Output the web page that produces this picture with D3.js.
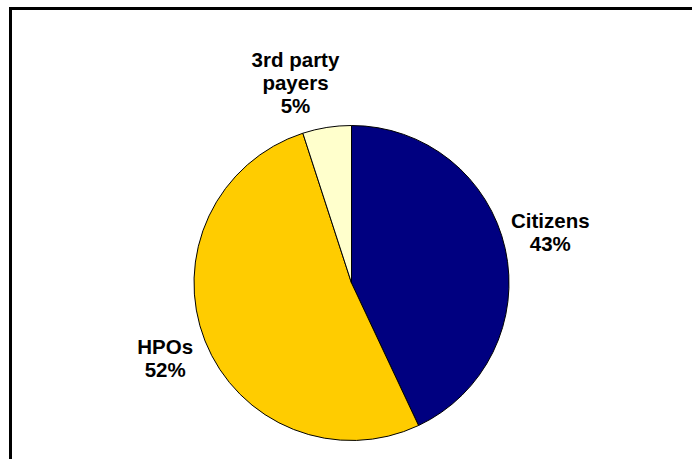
<!DOCTYPE html>
<html>
<head>
<meta charset="utf-8">
<script src="https://cdn.jsdelivr.net/npm/d3@7"></script>
<style>
  body { margin: 0; background: #fff; }
  text { font-family: "Liberation Sans", Arial, sans-serif; font-weight: bold; }
</style>
</head>
<body>
<div id="chart"></div>
<script>
var labels = ["Citizens", "HPOs", "3rd party payers"];
var values = [43, 52, 5];
var colors = ["#000080", "#FFCC00", "#FFFFCC"];
// label lines, kept next to the slice they belong to
var labelLines = [["Citizens", "43%"], ["HPOs", "52%"], ["3rd party", "payers", "5%"]];
// small shifts of each label block away from its centroid spot
var labelNudge = [[-1, -6], [4, 0], [-24, 2]];

var width = 692, height = 459;
var cx = 351.5, cy = 283, radius = 157.5;

var svg = d3.select("#chart").append("svg")
    .attr("width", width)
    .attr("height", height);

// outer frame, runs off the right and bottom edge
svg.append("rect")
    .attr("x", 10.5)
    .attr("y", 8.5)
    .attr("width", width)
    .attr("height", height)
    .attr("fill", "none")
    .attr("stroke", "#000")
    .attr("stroke-width", 3);

var pie = d3.pie().sort(null).value(function (d) { return d; });
var arcs = pie(values);
var arc = d3.arc().innerRadius(0).outerRadius(radius);

var g = svg.append("g")
    .attr("transform", "translate(" + cx + "," + cy + ")");

g.selectAll("path")
    .data(arcs)
    .enter()
    .append("path")
    .attr("d", arc)
    .attr("fill", function (d, i) { return colors[i]; })
    .attr("stroke", "#000")
    .attr("stroke-width", 1);

// label anchor radius (outside the pie)
var labelArc = d3.arc().innerRadius(radius * 1.3).outerRadius(radius * 1.3);
var lineH = 23;
var fontSize = 20.5;

g.selectAll("text.lbl")
    .data(arcs)
    .enter()
    .append("text")
    .attr("class", "lbl")
    .attr("text-anchor", "middle")
    .attr("font-size", fontSize)
    .attr("fill", "#000")
    .each(function (d, i) {
        var c = labelArc.centroid(d);
        var x = c[0] + labelNudge[i][0];
        var y = c[1] + labelNudge[i][1];
        var lines = labelLines[i];
        var top = y - (lines.length - 1) * lineH / 2 + fontSize * 0.36;
        var t = d3.select(this);
        lines.forEach(function (s, k) {
            t.append("tspan")
                .attr("x", x)
                .attr("y", top + k * lineH)
                .text(s);
        });
    });
</script>
</body>
</html>
